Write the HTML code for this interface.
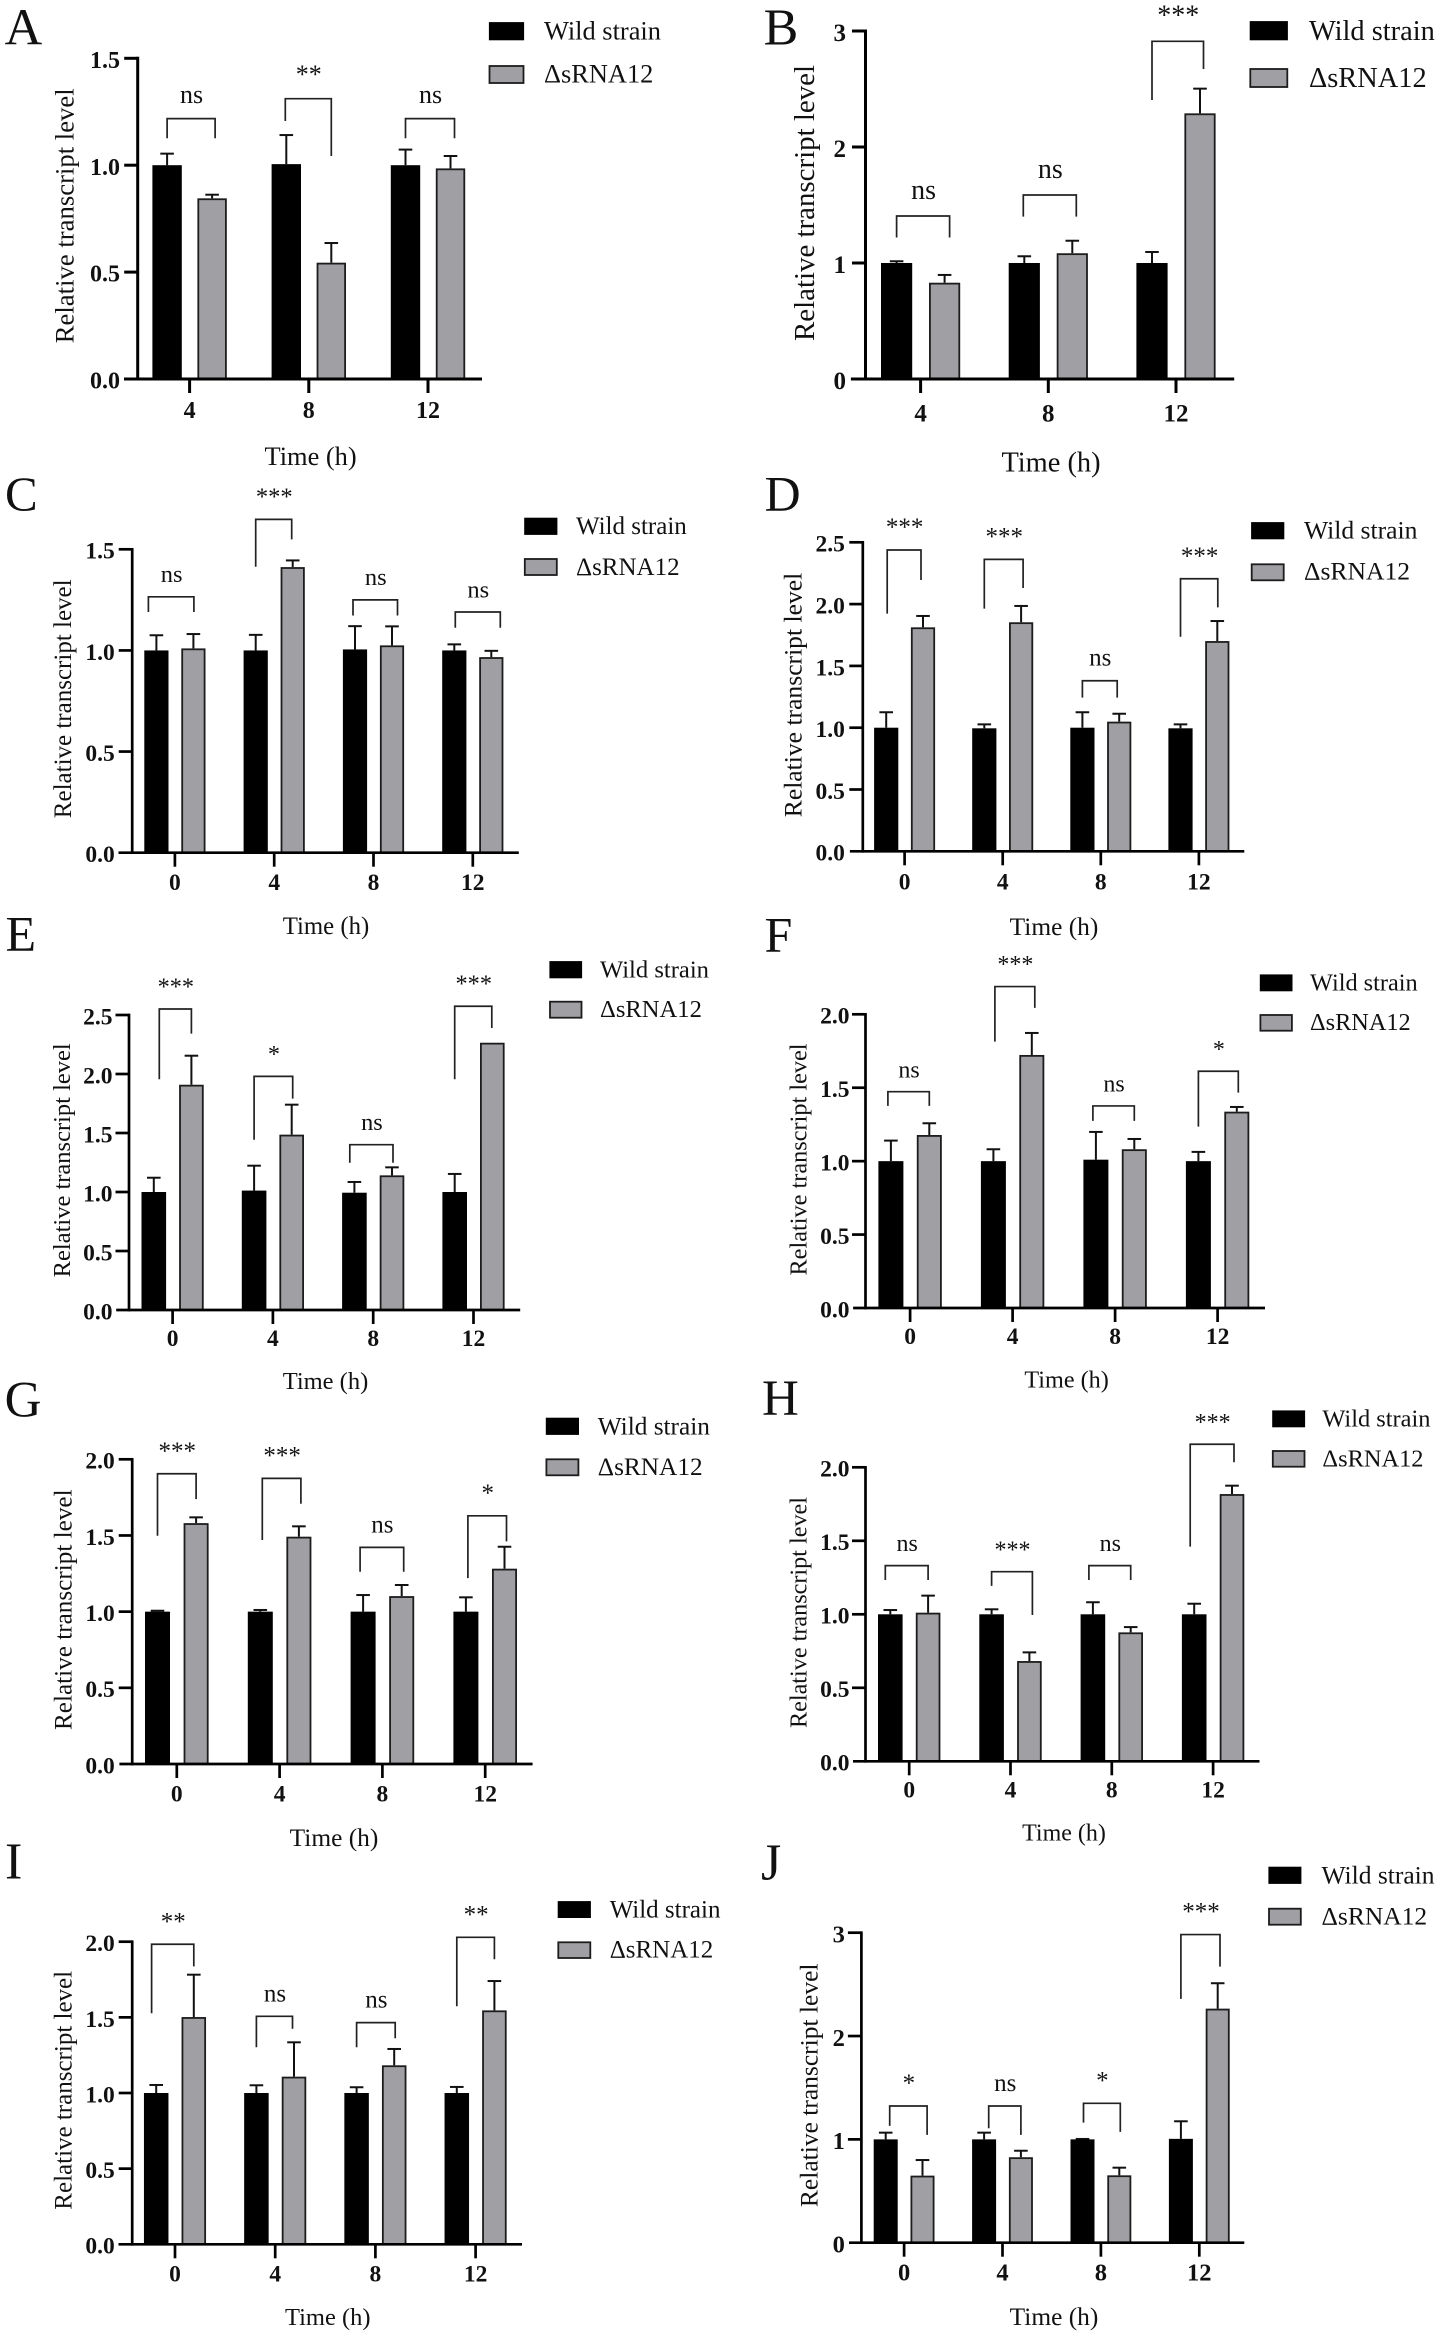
<!DOCTYPE html>
<html lang="en">
<head>
<meta charset="utf-8">
<title>Relative transcript level of Wild strain and ΔsRNA12</title>
<style>
html,body{margin:0;padding:0;background:#fff;}
svg{display:block;}
text{font-family:"Liberation Serif","Times New Roman",serif;fill:#111;}
</style>
</head>
<body>
<svg id="figure" xmlns="http://www.w3.org/2000/svg" width="1441" height="2335" viewBox="0 0 1441 2335">
<rect x="0" y="0" width="1441" height="2335" fill="#ffffff"/>
</svg>
<script>
// ---------- Shared labels ----------
const hours3 = ['4', '8', '12'];
const hours4 = ['0', '4', '8', '12'];
const yTitle = 'Relative transcript level';
const xTitle = 'Time (h)';
const legendWild = 'Wild strain';
const legendMutant = 'ΔsRNA12';

// ---------- Panel A ----------
const wildA = [1, 1.005, 1];
const wildSdA = [0.054, 0.136, 0.073];
const mutantA = [0.845, 0.544, 0.985];
const mutantSdA = [0.017, 0.092, 0.058];
const sigA = ['ns', '**', 'ns'];
const bracketTopA = [1.218, 1.311, 1.218];
const bracketLeftA = [1.126, 1.207, 1.126];
const bracketRightA = [1.126, 1.043, 1.126];
const ticksA = [0, 0.5, 1, 1.5];
const tickLabelsA = ['0.0', '0.5', '1.0', '1.5'];

// ---------- Panel B ----------
const wildB = [1, 1, 1];
const wildSdB = [0.015, 0.058, 0.095];
const mutantB = [0.83, 1.084, 2.29];
const mutantSdB = [0.067, 0.108, 0.213];
const sigB = ['ns', 'ns', '***'];
const bracketTopB = [1.405, 1.586, 2.911];
const bracketLeftB = [1.22, 1.4, 2.405];
const bracketRightB = [1.22, 1.4, 2.672];
const ticksB = [0, 1, 2, 3];
const tickLabelsB = ['0', '1', '2', '3'];

// ---------- Panel C ----------
const wildC = [1, 1, 1.005, 1];
const wildSdC = [0.075, 0.077, 0.115, 0.03];
const mutantC = [1.01, 1.412, 1.025, 0.967];
const mutantSdC = [0.071, 0.033, 0.094, 0.031];
const sigC = ['ns', '***', 'ns', 'ns'];
const bracketTopC = [1.265, 1.648, 1.25, 1.19];
const bracketLeftC = [1.19, 1.414, 1.173, 1.112];
const bracketRightC = [1.19, 1.549, 1.173, 1.112];
const ticksC = [0, 0.5, 1, 1.5];
const tickLabelsC = ['0.0', '0.5', '1.0', '1.5'];

// ---------- Panel D ----------
const wildD = [1, 0.995, 1, 0.995];
const wildSdD = [0.125, 0.032, 0.125, 0.032];
const mutantD = [1.812, 1.853, 1.049, 1.701];
const mutantSdD = [0.092, 0.132, 0.064, 0.162];
const sigD = ['***', '***', 'ns', '***'];
const bracketTopD = [2.438, 2.362, 1.38, 2.205];
const bracketLeftD = [1.923, 1.963, 1.243, 1.736];
const bracketRightD = [2.195, 2.13, 1.243, 1.974];
const ticksD = [0, 0.5, 1, 1.5, 2, 2.5];
const tickLabelsD = ['0.0', '0.5', '1.0', '1.5', '2.0', '2.5'];

// ---------- Panel E ----------
const wildE = [1, 1.012, 0.994, 1];
const wildSdE = [0.121, 0.211, 0.091, 0.153];
const mutantE = [1.909, 1.486, 1.141, 2.265];
const mutantSdE = [0.246, 0.254, 0.068, 0];
const sigE = ['***', '*', 'ns', '***'];
const bracketTopE = [2.551, 1.98, 1.401, 2.574];
const bracketLeftE = [1.955, 1.443, 1.248, 1.955];
const bracketRightE = [2.342, 1.791, 1.248, 2.39];
const ticksE = [0, 0.5, 1, 1.5, 2, 2.5];
const tickLabelsE = ['0.0', '0.5', '1.0', '1.5', '2.0', '2.5'];

// ---------- Panel F ----------
const wildF = [1, 1, 1.01, 1];
const wildSdF = [0.14, 0.081, 0.189, 0.063];
const mutantF = [1.178, 1.723, 1.081, 1.337];
const mutantSdF = [0.08, 0.15, 0.07, 0.032];
const sigF = ['ns', '***', 'ns', '*'];
const bracketTopF = [1.473, 2.189, 1.376, 1.612];
const bracketLeftF = [1.376, 1.814, 1.274, 1.235];
const bracketRightF = [1.376, 2.044, 1.274, 1.467];
const ticksF = [0, 0.5, 1, 1.5, 2];
const tickLabelsF = ['0.0', '0.5', '1.0', '1.5', '2.0'];

// ---------- Panel G ----------
const wildG = [1, 1, 1, 1];
const wildSdG = [0.006, 0.011, 0.109, 0.094];
const mutantG = [1.581, 1.492, 1.102, 1.282];
const mutantSdG = [0.038, 0.068, 0.073, 0.144];
const sigG = ['***', '***', 'ns', '*'];
const bracketTopG = [1.905, 1.875, 1.422, 1.629];
const bracketLeftG = [1.498, 1.47, 1.262, 1.22];
const bracketRightG = [1.739, 1.708, 1.262, 1.461];
const ticksG = [0, 0.5, 1, 1.5, 2];
const tickLabelsG = ['0.0', '0.5', '1.0', '1.5', '2.0'];

// ---------- Panel H ----------
const wildH = [1, 1, 1, 1];
const wildSdH = [0.029, 0.034, 0.082, 0.072];
const mutantH = [1.011, 0.682, 0.877, 1.818];
const mutantSdH = [0.116, 0.059, 0.036, 0.057];
const sigH = ['ns', '***', 'ns', '***'];
const bracketTopH = [1.331, 1.29, 1.331, 2.157];
const bracketLeftH = [1.233, 1.193, 1.233, 1.46];
const bracketRightH = [1.233, 0.995, 1.233, 2.034];
const ticksH = [0, 0.5, 1, 1.5, 2];
const tickLabelsH = ['0.0', '0.5', '1.0', '1.5', '2.0'];

// ---------- Panel I ----------
const wildI = [1, 1, 1, 1];
const wildSdI = [0.053, 0.051, 0.038, 0.04];
const mutantI = [1.502, 1.108, 1.183, 1.546];
const mutantSdI = [0.28, 0.227, 0.108, 0.194];
const sigI = ['**', 'ns', 'ns', '**'];
const bracketTopI = [1.983, 1.507, 1.465, 2.029];
const bracketLeftI = [1.527, 1.302, 1.302, 1.573];
const bracketRightI = [1.837, 1.425, 1.362, 1.884];
const ticksI = [0, 0.5, 1, 1.5, 2];
const tickLabelsI = ['0.0', '0.5', '1.0', '1.5', '2.0'];

// ---------- Panel J ----------
const wildJ = [1, 1, 1, 1.005];
const wildSdJ = [0.065, 0.065, 0.004, 0.17];
const mutantJ = [0.649, 0.827, 0.652, 2.265];
const mutantSdJ = [0.151, 0.063, 0.074, 0.246];
const sigJ = ['*', 'ns', '*', '***'];
const bracketTopJ = [1.323, 1.323, 1.349, 2.982];
const bracketLeftJ = [1.13, 1.107, 1.162, 2.359];
const bracketRightJ = [1.043, 1.043, 1.072, 2.672];
const ticksJ = [0, 1, 2, 3];
const tickLabelsJ = ['0', '1', '2', '3'];

// ---------- Panels: binds the data arrays above to a page layout ----------
const panels = [
  {letter:'A', cats:hours3, wild:wildA, wildSd:wildSdA, mutant:mutantA, mutantSd:mutantSdA, sig:sigA, bTop:bracketTopA, bLeft:bracketLeftA, bRight:bracketRightA, ticks:ticksA, tickLabels:tickLabelsA,
   layout:{lx:4.6, ly:44.3, lfs:52, axisX:137.7, yBase:379, yTop:58.3, xStart:124, xEnd:482, cx0:189.6, step:119.2, off:22.5, bw:29.4, tickFs:24, tickEnd:120, xTickY:418, yTitleX:73.5, yTitleY:215.8, yTitleFs:26.7, xTitleX:310.6, xTitleY:465, xTitleFs:26.4, legX:489.5, legW:34, legH:17, legY1:22.7, legY2:66, legTextX:544, legFs:26.4, legBase1:39.3, legBase2:82.7, sigFs:26, sw:3, inset:[[0,3],[-1,0],[0,4]]}},
  {letter:'B', cats:hours3, wild:wildB, wildSd:wildSdB, mutant:mutantB, mutantSd:mutantSdB, sig:sigB, bTop:bracketTopB, bLeft:bracketLeftB, bRight:bracketRightB, ticks:ticksB, tickLabels:tickLabelsB,
   layout:{lx:763.6, ly:44.3, lfs:52, axisX:865.5, yBase:379, yTop:31, xStart:850.9, xEnd:1234.2, cx0:920.6, step:127.7, off:24, bw:31.2, tickFs:25, tickEnd:846, xTickY:421.7, yTitleX:814, yTitleY:203, yTitleFs:28.9, xTitleX:1051, xTitleY:471.7, xTitleFs:28.4, legX:1250.3, legW:37, legH:18, legY1:21.7, legY2:69, legTextX:1309, legFs:28.4, legBase1:40, legBase2:87, sigFs:28, sw:3, inset:[[0,5],[-1,4],[0,3.5]]}},
  {letter:'C', cats:hours4, wild:wildC, wildSd:wildSdC, mutant:mutantC, mutantSd:mutantSdC, sig:sigC, bTop:bracketTopC, bLeft:bracketLeftC, bRight:bracketRightC, ticks:ticksC, tickLabels:tickLabelsC,
   layout:{lx:5, ly:510.7, lfs:49, axisX:132.2, yBase:852.7, yTop:549.3, xStart:118.5, xEnd:518.8, cx0:174.9, step:99.3, off:18.5, bw:24.2, tickFs:23.5, tickEnd:114.8, xTickY:890, yTitleX:71, yTitleY:698.8, yTitleFs:25, xTitleX:326, xTitleY:934, xTitleFs:24.8, legX:524.8, legW:32, legH:16, legY1:518.3, legY2:559, legTextX:576, legFs:25, legBase1:534, legBase2:575, sigFs:24.5, sw:2.7, inset:[[-8,0.5],[0,-1],[-2,5.5],[1,9]]}},
  {letter:'D', cats:hours4, wild:wildD, wildSd:wildSdD, mutant:mutantD, mutantSd:mutantSdD, sig:sigD, bTop:bracketTopD, bLeft:bracketLeftD, bRight:bracketRightD, ticks:ticksD, tickLabels:tickLabelsD,
   layout:{lx:764.5, ly:510.7, lfs:50, axisX:862.8, yBase:851.3, yTop:542.3, xStart:849.9, xEnd:1244.3, cx0:904.6, step:98.1, off:18.4, bw:24.2, tickFs:23.5, tickEnd:844.9, xTickY:889.3, yTitleX:801.7, yTitleY:695, yTitleFs:25.6, xTitleX:1054, xTitleY:935, xTitleFs:25.4, legX:1251.7, legW:32, legH:16, legY1:522.7, legY2:564.3, legTextX:1304, legFs:25.6, legBase1:538.3, legBase2:579.7, sigFs:25, sw:2.7, inset:[[1,-2],[0,2],[0,-2],[0,0.5]]}},
  {letter:'E', cats:hours4, wild:wildE, wildSd:wildSdE, mutant:mutantE, mutantSd:mutantSdE, sig:sigE, bTop:bracketTopE, bLeft:bracketLeftE, bRight:bracketRightE, ticks:ticksE, tickLabels:tickLabelsE,
   layout:{lx:5.5, ly:950.7, lfs:50, axisX:129, yBase:1310, yTop:1015, xStart:116.2, xEnd:520.2, cx0:172.6, step:100.3, off:18.8, bw:24.6, tickFs:23.5, tickEnd:112.5, xTickY:1346, yTitleX:70.2, yTitleY:1160.3, yTitleFs:24.5, xTitleX:325.5, xTitleY:1389, xTitleFs:24.5, legX:550, legW:31.5, legH:16, legY1:961.7, legY2:1001.7, legTextX:600, legFs:24.6, legBase1:977.7, legBase2:1017, sigFs:24.3, sw:2.7, inset:[[5.5,0],[0,1],[-4.6,1],[0,-0.5]]}},
  {letter:'F', cats:hours4, wild:wildF, wildSd:wildSdF, mutant:mutantF, mutantSd:mutantSdF, sig:sigF, bTop:bracketTopF, bLeft:bracketLeftF, bRight:bracketRightF, ticks:ticksF, tickLabels:tickLabelsF,
   layout:{lx:764.5, ly:951.7, lfs:50, axisX:865.5, yBase:1308, yTop:1014.3, xStart:853.1, xEnd:1265, cx0:910.1, step:102.5, off:19.2, bw:25, tickFs:23.5, tickEnd:849.5, xTickY:1344, yTitleX:806.3, yTitleY:1159.5, yTitleFs:24.3, xTitleX:1066.6, xTitleY:1387.7, xTitleFs:24.2, legX:1260.4, legW:31.5, legH:15.7, legY1:975, legY2:1015, legTextX:1310, legFs:24.3, legBase1:990.7, legBase2:1030, sigFs:24, sw:2.7, inset:[[-3,0],[1.5,3],[-3,0],[0,1.5]]}},
  {letter:'G', cats:hours4, wild:wildG, wildSd:wildSdG, mutant:mutantG, mutantSd:mutantSdG, sig:sigG, bTop:bracketTopG, bLeft:bracketLeftG, bRight:bracketRightG, ticks:ticksG, tickLabels:tickLabelsG,
   layout:{lx:4.6, ly:1416.7, lfs:51, axisX:132.2, yBase:1764, yTop:1459.3, xStart:119.4, xEnd:532.6, cx0:176.8, step:102.8, off:19.3, bw:25, tickFs:23.5, tickEnd:114.8, xTickY:1801.7, yTitleX:71.6, yTitleY:1609.7, yTitleFs:25.2, xTitleX:334, xTitleY:1846, xTitleFs:25.4, legX:546.4, legW:32, legH:16, legY1:1418.3, legY2:1459.3, legTextX:597.8, legFs:25.3, legBase1:1434.3, legBase2:1475, sigFs:25, sw:2.7, inset:[[0,0],[2,2],[-3,2],[2,2]]}},
  {letter:'H', cats:hours4, wild:wildH, wildSd:wildSdH, mutant:mutantH, mutantSd:mutantSdH, sig:sigH, bTop:bracketTopH, bLeft:bracketLeftH, bRight:bracketRightH, ticks:ticksH, tickLabels:tickLabelsH,
   layout:{lx:762, ly:1415, lfs:51, axisX:865.5, yBase:1761.3, yTop:1467.3, xStart:853, xEnd:1259.5, cx0:909.2, step:101.3, off:18.9, bw:24.6, tickFs:23.5, tickEnd:849.5, xTickY:1797.7, yTitleX:806.3, yTitleY:1612.5, yTitleFs:24.2, xTitleX:1064, xTitleY:1840.7, xTitleFs:24, legX:1272.8, legW:31.7, legH:15.7, legY1:1411, legY2:1451, legTextX:1322.4, legFs:24.4, legBase1:1426.7, legBase2:1466.7, sigFs:24, sw:2.7, inset:[[-5,0],[0,3],[-4,0],[-4,2]]}},
  {letter:'I', cats:hours4, wild:wildI, wildSd:wildSdI, mutant:mutantI, mutantSd:mutantSdI, sig:sigI, bTop:bracketTopI, bLeft:bracketLeftI, bRight:bracketRightI, ticks:ticksI, tickLabels:tickLabelsI,
   layout:{lx:5, ly:1878.3, lfs:52, axisX:132.2, yBase:2244.3, yTop:1941.7, xStart:118.5, xEnd:522, cx0:175, step:100.2, off:18.8, bw:24.5, tickFs:23.5, tickEnd:114.8, xTickY:2281.7, yTitleX:71.6, yTitleY:2090.3, yTitleFs:25, xTitleX:327.8, xTitleY:2325, xTitleFs:24.5, legX:558.3, legW:32, legH:15.7, legY1:1901.7, legY2:1942.3, legTextX:609.7, legFs:25, legBase1:1917.3, legBase2:1957.7, sigFs:25, sw:2.7, inset:[[-4.6,0],[0,-1.5],[0,1],[0,0]]}},
  {letter:'J', cats:hours4, wild:wildJ, wildSd:wildSdJ, mutant:mutantJ, mutantSd:mutantSdJ, sig:sigJ, bTop:bracketTopJ, bLeft:bracketLeftJ, bRight:bracketRightJ, ticks:ticksJ, tickLabels:tickLabelsJ,
   layout:{lx:761, ly:1879.3, lfs:52, axisX:861.4, yBase:2242.7, yTop:1932.7, xStart:849, xEnd:1244.3, cx0:904.1, step:98.4, off:18.4, bw:24, tickFs:24.5, tickEnd:844.9, xTickY:2280.7, yTitleX:817.3, yTitleY:2085.3, yTitleFs:25.5, xTitleX:1054, xTitleY:2325, xTitleFs:25.4, legX:1269, legW:31.8, legH:16, legY1:1867.3, legY2:1908.7, legTextX:1321.5, legFs:25.5, legBase1:1883.3, legBase2:1924.3, sigFs:25, sw:2.7, inset:[[4,4.6],[4.6,0],[1,1],[0,2.3]]}}
];

const GREY = '#a0a0a4';
const EDGE = '#1c1c1c';
const BAR_STROKE = 1.8;
const SVGNS = 'http://www.w3.org/2000/svg';
const root = document.getElementById('figure');

function mk(tag, attrs, parent) {
  const el = document.createElementNS(SVGNS, tag);
  for (const k in attrs) el.setAttribute(k, attrs[k]);
  parent.appendChild(el);
  return el;
}
function mkText(str, attrs, parent) {
  const el = mk('text', attrs, parent);
  el.textContent = str;
  return el;
}

function drawPanel(p) {
  const L = p.layout;
  const yMax = p.ticks[p.ticks.length - 1];
  const yScale = v => L.yBase - (v / yMax) * (L.yBase - L.yTop);
  const xBand = i => L.cx0 + i * L.step;
  const id = p.letter.toLowerCase();

  const g = mk('g', {}, root);
  
  

  const letter = mkText(p.letter, {x:L.lx, y:L.ly, 'font-size':L.lfs, fill:'#111'}, g);
  
  

  // bars and error bars
  p.cats.forEach((cat, i) => {
    const cx = xBand(i);
    [['wild', p.wild[i], p.wildSd[i], -1], ['mutant', p.mutant[i], p.mutantSd[i], 1]].forEach(s => {
      const bx = cx + s[3] * L.off;
      const top = yScale(s[1]);
      if (s[2] > 0) {
        const errTop = yScale(s[1] + s[2]);
        const stem = mk('line', {x1:bx, x2:bx, y1:top, y2:errTop, stroke:'#111', 'stroke-width':2}, g);
        
        
        const cap = mk('line', {x1:bx - 6.8, x2:bx + 6.8, y1:errTop, y2:errTop, stroke:'#111', 'stroke-width':2}, g);
        
        
      }
      const inner = BAR_STROKE / 2;
      const bar = mk('rect', {x:bx - L.bw / 2 + inner, y:top + inner, width:L.bw - BAR_STROKE, height:Math.max(0, L.yBase - top - inner),
        fill:s[0] === 'wild' ? '#000' : GREY, stroke:s[0] === 'wild' ? '#000' : EDGE, 'stroke-width':BAR_STROKE}, g);
      
      
    });
  });

  // axes
  const yAxis = mk('line', {x1:L.axisX, x2:L.axisX, y1:L.yBase + L.sw / 2, y2:yScale(yMax) - L.sw / 2, stroke:'#000', 'stroke-width':L.sw}, g);
  
  
  const xAxis = mk('line', {x1:L.xStart, x2:L.xEnd, y1:L.yBase, y2:L.yBase, stroke:'#000', 'stroke-width':L.sw}, g);
  
  

  // y ticks
  p.ticks.forEach((t, i) => {
    const y = yScale(t);
    if (t !== 0) {
      const tick = mk('line', {x1:L.axisX - 13.5, x2:L.axisX, y1:y, y2:y, stroke:'#000', 'stroke-width':L.sw}, g);
      
      
    }
    const lab = mkText(p.tickLabels[i], {x:L.tickEnd, y:y + 0.4 * L.tickFs, 'font-size':L.tickFs, 'font-weight':'bold', 'text-anchor':'end'}, g);
    
    
  });

  // x ticks
  p.cats.forEach((cat, i) => {
    const x = xBand(i);
    const tick = mk('line', {x1:x, x2:x, y1:L.yBase, y2:L.yBase + 14, stroke:'#000', 'stroke-width':L.sw}, g);
    
    
    const lab = mkText(cat, {x:x, y:L.xTickY, 'font-size':L.tickFs, 'font-weight':'bold', 'text-anchor':'middle'}, g);
    
    
  });

  // significance brackets
  p.sig.forEach((label, i) => {
    const x1 = xBand(i) - L.off + L.inset[i][0];
    const x2 = xBand(i) + L.off + L.inset[i][1];
    const yT = yScale(p.bTop[i]);
    const br = mk('path', {d:'M' + x1 + ' ' + yScale(p.bLeft[i]) + 'V' + yT + 'H' + x2 + 'V' + yScale(p.bRight[i]),
      fill:'none', stroke:'#222', 'stroke-width':1.7}, g);
    
    
    const sl = mkText(label, {x:(x1 + x2) / 2 + 0.5, y:yT - 0.6 * L.sigFs, 'font-size':L.sigFs, 'text-anchor':'middle'}, g);
    
    
  });

  // axis titles
  const yt = mkText(yTitle, {x:0, y:0, 'font-size':L.yTitleFs, 'text-anchor':'middle',
    transform:'translate(' + L.yTitleX + ' ' + L.yTitleY + ') rotate(-90)'}, g);
  
  
  const xt = mkText(xTitle, {x:L.xTitleX, y:L.xTitleY, 'font-size':L.xTitleFs, 'text-anchor':'middle'}, g);
  
  

  // legend
  const sw1 = mk('rect', {x:L.legX, y:L.legY1, width:L.legW, height:L.legH, fill:'#000', stroke:'#000', 'stroke-width':1.2}, g);
  
  
  const tx1 = mkText(legendWild, {x:L.legTextX, y:L.legBase1, 'font-size':L.legFs}, g);
  
  
  const sw2 = mk('rect', {x:L.legX, y:L.legY2, width:L.legW, height:L.legH, fill:GREY, stroke:EDGE, 'stroke-width':1.8}, g);
  
  
  const tx2 = mkText(legendMutant, {x:L.legTextX, y:L.legBase2, 'font-size':L.legFs}, g);
  
  
}

panels.forEach(drawPanel);
</script>
</body>
</html>
